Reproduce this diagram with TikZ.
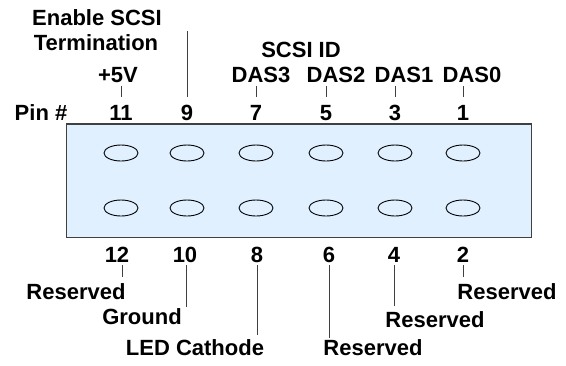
\documentclass[tikz,border=0pt]{standalone}
\usepackage{fontspec}
\setmainfont{Liberation Sans}
\usetikzlibrary{shapes.geometric}
\begin{document}
\begin{tikzpicture}[x=1pt,y=-1pt,
  lbl/.style={font=\fontsize{22}{26}\selectfont\bfseries, inner sep=0pt, anchor=center},
  hole/.style={draw=black, line width=0.9pt, ellipse, minimum width=34pt, minimum height=16pt, inner sep=0pt},
  tick/.style={draw=black!75, line width=0.9pt},
  board/.style={draw=black!75, line width=1.4pt, fill={rgb,255:red,224;green,240;blue,255}}]
\useasboundingbox (0,0) rectangle (566,365);
% board
\path[board] (66.5,124) rectangle (531.5,237.5);
% holes
\foreach \x/\n in {121/a,187/b,256/c,326/d,395/e,463/f}{
  \node[hole] (t\n) at (\x,153) {};
  \node[hole] (u\n) at (\x,208) {};
}
% top labels
\node[lbl] (ena) at (97,18) {Enable SCSI};
\node[lbl] (term) at (96,43) {Termination};
\node[lbl] (scsiid) at (301,50) {SCSI ID};
\node[lbl] (v5) at (118,75) {+5V};
\node[lbl] (das3) at (261,75) {DAS3};
\node[lbl] (das2) at (336,75) {DAS2};
\node[lbl] (das1) at (404,75) {DAS1};
\node[lbl] (das0) at (472,75) {DAS0};
\node[lbl] (pin) at (41,113) {Pin \#};
% top numbers
\node[lbl] (p11) at (121,113) {11};
\node[lbl] (p9) at (187,113) {9};
\node[lbl] (p7) at (256,113) {7};
\node[lbl] (p5) at (326,113) {5};
\node[lbl] (p3) at (395,113) {3};
\node[lbl] (p1) at (463,113) {1};
% top ticks
\foreach \x/\n/\t in {121/11/86,187/9/31,256/7/86,326/5/86,395/3/86,463/1/86}{
  \coordinate (ta\n) at (\x,\t);
  \coordinate (tb\n) at (\x,97);
  \draw[tick] (ta\n) -- (tb\n);
}
% bottom numbers
\node[lbl] (p12) at (117,255) {12};
\node[lbl] (p10) at (185,255) {10};
\node[lbl] (p8) at (257,255) {8};
\node[lbl] (p6) at (329,255) {6};
\node[lbl] (p4) at (394,255) {4};
\node[lbl] (p2) at (463,255) {2};
% bottom labels
\node[lbl] (r12) at (76,292) {Reserved};
\node[lbl] (gnd) at (142,317) {Ground};
\node[lbl] (led) at (195,348) {LED Cathode};
\node[lbl] (r6) at (373,348) {Reserved};
\node[lbl] (r4) at (435,320) {Reserved};
\node[lbl] (r2) at (507,292) {Reserved};
% bottom ticks
\foreach \x/\n/\t in {122/12/277,186/10/307,257/8/335,329/6/338,394/4/306,463/2/277}{
  \coordinate (ba\n) at (\x,265);
  \coordinate (bb\n) at (\x,\t);
  \draw[tick] (ba\n) -- (bb\n);
}
\end{tikzpicture}
\end{document}
